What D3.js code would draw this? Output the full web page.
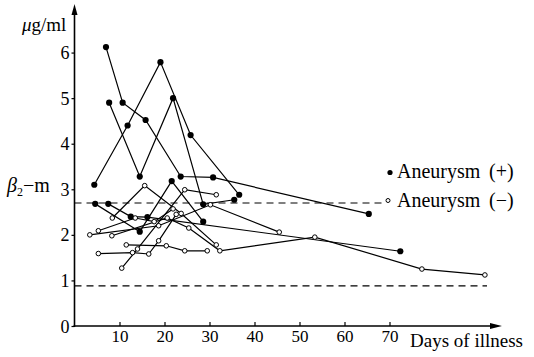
<!DOCTYPE html>
<html><head><meta charset="utf-8">
<script src="https://cdn.jsdelivr.net/npm/d3@7"></script>
<style>html,body{margin:0;padding:0;background:#fff;}</style>
</head>
<body><svg id="c" width="534" height="357" font-family="Liberation Serif"></svg>
<script>
// ---- data (day of illness, beta2-microglobulin µg/ml) ----
const xTicks = [10,20,30,40,50,60,70];
const yTicks = [0,1,2,3,4,5,6];
const normalLimits = [0.88, 2.7];
const legendLabels = ["Aneurysm (+)", "Aneurysm (\u2212)"];
// Aneurysm (+) patients
const pos1 = [[7.0,6.12],[10.7,4.9],[15.8,4.52],[23.6,3.28],[30.8,3.26],[65.4,2.46]];
const pos2 = [[7.7,4.9],[14.5,3.28],[21.9,5.0],[28.6,2.67],[35.5,2.77]];
const pos3 = [[4.4,3.1],[11.8,4.4],[19.1,5.79],[25.8,4.19],[36.6,2.88]];
const pos4 = [[4.6,2.68],[14.5,2.07],[21.6,3.18],[28.6,2.29]];
const pos5 = [[7.5,2.68],[12.5,2.40],[16.2,2.39],[72.4,1.64]];
// Aneurysm (-) patients
const neg1 = [[3.4,2.0],[18.7,2.2],[30.2,2.66],[45.5,2.06]];
const neg2 = [[5.3,2.09],[13.5,2.37],[17.7,2.29],[21.9,2.57]];
const neg3 = [[8.3,1.98],[20.6,2.37],[25.4,2.15],[32.3,1.65],[53.4,1.95],[77.2,1.25],[91.2,1.12]];
const neg4 = [[8.4,2.37],[15.6,3.08],[23.7,2.47],[31.5,1.78]];
const neg5 = [[10.5,1.27],[14.0,1.69],[24.5,2.99],[31.5,2.88]];
const neg6 = [[5.3,1.59],[12.9,1.61],[16.5,1.58],[18.7,1.87],[22.6,2.45]];
const neg7 = [[11.5,1.78],[20.4,1.76],[24.5,1.65],[29.5,1.65]];

const posSeries = [pos1,pos2,pos3,pos4,pos5];
const negSeries = [neg1,neg2,neg3,neg4,neg5,neg6,neg7];

// ---- drawing ----
const FONT = "Liberation Serif";
const svg = d3.select("#c");
const x = d3.scaleLinear().domain([0,95]).range([74.5,502]);
const y = d3.scaleLinear().domain([0,7]).range([326,7]);
const line = d3.line().x(d=>x(d[0])).y(d=>y(d[1]));

// normal-limit dashed lines
svg.append("line").attr("x1",x(0)).attr("x2",383).attr("y1",y(normalLimits[1])).attr("y2",y(normalLimits[1]))
  .attr("stroke","#000").attr("stroke-width",1.1).attr("stroke-dasharray","7,5");
svg.append("line").attr("x1",x(0)).attr("x2",487).attr("y1",y(normalLimits[0])).attr("y2",y(normalLimits[0]))
  .attr("stroke","#000").attr("stroke-width",1.1).attr("stroke-dasharray","7,5");

// axes
const yAxis = d3.axisLeft(y).tickValues(yTicks).tickSize(3).tickPadding(2).tickFormat(d3.format("d"));
const gy = svg.append("g").attr("transform",`translate(${x(0)},0)`).call(yAxis).attr("font-family",FONT);
gy.select(".domain").remove();
gy.selectAll("text").attr("font-family",FONT).attr("font-size",18).attr("fill","#000").attr("dy","0.34em");
gy.selectAll("line").attr("stroke","#000").attr("stroke-width",1.2);

const xAxis = d3.axisBottom(x).tickValues(xTicks).tickSize(-4).tickPadding(4).tickFormat(d3.format("d"));
const gx = svg.append("g").attr("transform",`translate(0,${y(0)})`).call(xAxis).attr("font-family",FONT);
gx.select(".domain").remove();
gx.selectAll("text").attr("font-family",FONT).attr("font-size",17).attr("fill","#000");
gx.selectAll("line").attr("stroke","#000").attr("stroke-width",1.2);

// axis lines with arrows
svg.append("line").attr("x1",x(0)).attr("x2",x(0)).attr("y1",y(0)+1).attr("y2",12)
  .attr("stroke","#000").attr("stroke-width",1.6);
svg.append("path").attr("d",`M${x(0)},4 L${x(0)-3},15 L${x(0)+3},15 Z`).attr("fill","#000");
svg.append("line").attr("x1",x(0)-1).attr("x2",492).attr("y1",y(0)).attr("y2",y(0))
  .attr("stroke","#000").attr("stroke-width",1.6);
svg.append("path").attr("d",`M502,${y(0)} L490,${y(0)-3} L490,${y(0)+3} Z`).attr("fill","#000");

// series lines
const allSeries = posSeries.concat(negSeries);
svg.append("g").selectAll("path").data(allSeries).join("path")
  .attr("d",line).attr("fill","none").attr("stroke","#000").attr("stroke-width",1.2);

// markers
svg.append("g").selectAll("circle").data(posSeries.flat()).join("circle")
  .attr("cx",d=>x(d[0])).attr("cy",d=>y(d[1])).attr("r",3.1).attr("fill","#000");
svg.append("g").selectAll("circle").data(negSeries.flat()).join("circle")
  .attr("cx",d=>x(d[0])).attr("cy",d=>y(d[1])).attr("r",2.3).attr("fill","#fff")
  .attr("stroke","#000").attr("stroke-width",1);

// axis titles
const ut = svg.append("text").attr("x",22).attr("y",31).attr("font-size",19).attr("font-family",FONT);
ut.append("tspan").attr("font-style","italic").attr("font-family",FONT).text("\u03bc");
ut.append("tspan").attr("font-family",FONT).text("g/ml");
const bt = svg.append("text").attr("x",7).attr("y",192).attr("font-size",20).attr("font-family",FONT);
bt.append("tspan").attr("font-style","italic").attr("font-family",FONT).text("\u03b2");
bt.append("tspan").attr("font-size",12).attr("dy",4).attr("font-family",FONT).text("2");
bt.append("tspan").attr("dy",-4).attr("font-family",FONT).text("\u2212m");
svg.append("text").attr("x",410).attr("y",347).attr("font-size",19).attr("font-family",FONT).text("Days of illness");

// legend
svg.append("circle").attr("cx",390).attr("cy",172.5).attr("r",2.6).attr("fill","#000");
const l1 = svg.append("text").attr("x",397).attr("y",178).attr("font-size",20).attr("font-family",FONT);
l1.append("tspan").attr("font-family",FONT).text(legendLabels[0].split(" ")[0]);
l1.append("tspan").attr("x",489).attr("font-family",FONT).text(legendLabels[0].split(" ")[1]);
svg.append("circle").attr("cx",388).attr("cy",200.5).attr("r",2).attr("fill","#fff").attr("stroke","#000").attr("stroke-width",1);
const l2 = svg.append("text").attr("x",397).attr("y",206.5).attr("font-size",20).attr("font-family",FONT);
l2.append("tspan").attr("font-family",FONT).text(legendLabels[1].split(" ")[0]);
l2.append("tspan").attr("x",489).attr("font-family",FONT).text(legendLabels[1].split(" ")[1]);
</script></body></html>
